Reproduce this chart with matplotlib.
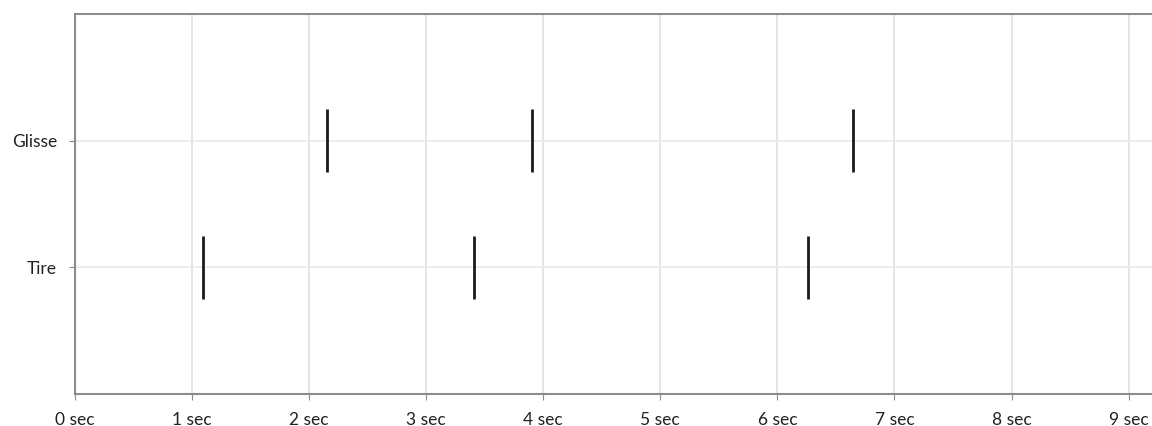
import numpy as np
import matplotlib
matplotlib.use("Agg")
import matplotlib.pyplot as plt

# event data (seconds)
categories = ["Tire", "Glisse"]
tire_times = [1.09, 3.41, 6.26]
glisse_times = [2.15, 3.90, 6.65]
tick_secs = list(range(0, 10))
tick_labels = [str(s) + " sec" for s in tick_secs]

plt.rcParams['font.family'] = ['Lato', 'DejaVu Sans']

fig = plt.figure(figsize=(11.52, 4.26), dpi=100)
ax = fig.add_axes([75 / 1152, 32 / 426, 1 - 75 / 1152, 380 / 426])

ax.eventplot([tire_times, glisse_times], lineoffsets=[1, 2], linelengths=0.5,
             linewidths=2, colors='#1a1a1a', zorder=3)

ax.set_xlim(0, 9.2)
ax.set_ylim(0, 3)
ax.set_xticks(tick_secs)
ax.set_xticklabels(tick_labels, fontsize=12.5, color='#222222')
ax.set_yticks([1, 2])
ax.set_yticklabels(categories, fontsize=12.5, color='#222222')

ax.xaxis.grid(True, color='#d6e8d8', linewidth=1.2)
ax.yaxis.grid(True, color='#e8ebe8', linewidth=1.2)
ax.set_axisbelow(True)

for side in ['left', 'bottom', 'top']:
    ax.spines[side].set_color('#8c8c8c')
    ax.spines[side].set_linewidth(1.5)
ax.spines['right'].set_visible(False)
ax.tick_params(axis='both', length=4, color='#8c8c8c')
ax.tick_params(axis='x', pad=9)
ax.tick_params(axis='y', pad=9)

fig.savefig("out.png", dpi=100)
